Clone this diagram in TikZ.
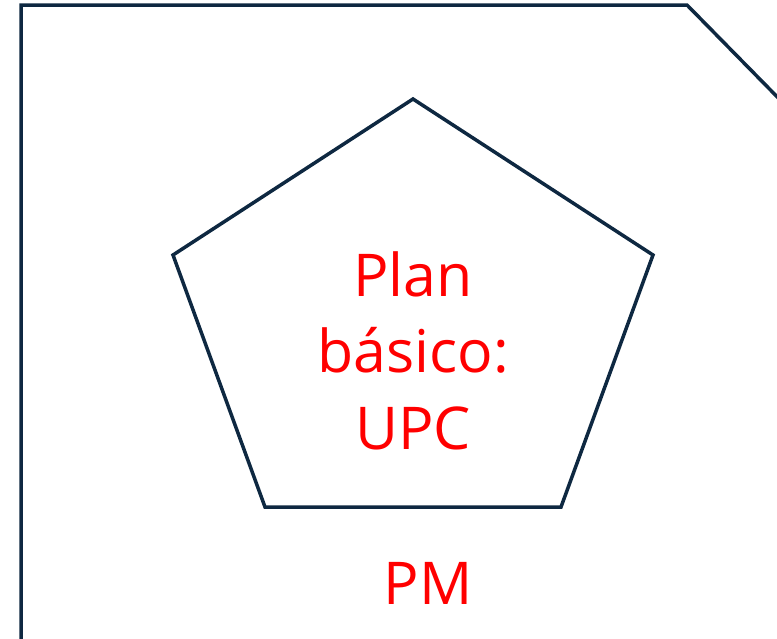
\documentclass[tikz,border=0pt]{standalone}
\usepackage{fontspec}
\setmainfont{Open Sans}
\definecolor{navy}{HTML}{0E2841}
\definecolor{txtred}{HTML}{FF0000}
\tikzset{outline/.style={draw=navy,line width=3.5pt,line join=miter},
  lbl/.style={text=txtred,font=\fontsize{59}{77}\selectfont,align=center,inner sep=0pt}}
\begin{document}
\begin{tikzpicture}[x=1pt,y=-1pt]
\useasboundingbox (0,0) rectangle (777,638);
\clip (0,0) rectangle (777,638);
\draw[outline] (21,660) -- (21,5) -- (687,5) -- (797,117);
\draw[outline] (413,99) -- (653,255) -- (561,507) -- (265,507) -- (173,255) -- cycle;
\node[lbl,anchor=base] (t1) at (413,296) {Plan};
\node[lbl,anchor=base] (t2) at (413,372) {básico:};
\node[lbl,anchor=base] (t3) at (413,449) {UPC};
\node[lbl,anchor=base] (pm) at (428,604) {PM};
\end{tikzpicture}
\end{document}
